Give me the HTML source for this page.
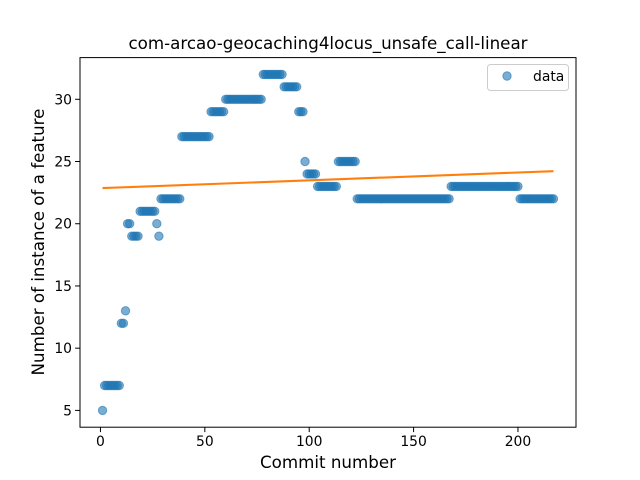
<!DOCTYPE html>
<html><head><meta charset="utf-8"><style>
body{margin:0;background:#fff}
svg{display:block;font-family:"DejaVu Sans","Liberation Sans",sans-serif}
</style></head><body>
<svg id="c" width="640" height="480"></svg>
<script>
// segments: [xStart, xEnd, value]
const segStarts=[1,2,10,12,13,15,19,27,28,29,39,53,60,78,88,95,98,99,104,114,123,168,201];
const segEnds  =[1,9,11,12,14,18,26,27,28,38,52,59,77,87,94,97,98,103,113,122,167,200,217];
const segValues=[5,7,12,13,20,19,21,20,19,22,27,29,30,32,31,29,25,24,23,25,22,23,22];
const xTicks=[0,50,100,150,200];
const yTicks=[5,10,15,20,25,30];
const xs=[],ys=[];
for(let i=0;i<segStarts.length;i++)for(let x=segStarts[i];x<=segEnds[i];x++){xs.push(x);ys.push(segValues[i]);}
const L=80,R=576,T=57.6,B=427.2;
const xmin=Math.min(...xs),xmax=Math.max(...xs),ymin=Math.min(...ys),ymax=Math.max(...ys);
const x0=xmin-(xmax-xmin)*0.05,x1=xmax+(xmax-xmin)*0.05,y0=ymin-(ymax-ymin)*0.05,y1=ymax+(ymax-ymin)*0.05;
const sx=v=>L+(v-x0)/(x1-x0)*(R-L), sy=v=>B-(v-y0)/(y1-y0)*(B-T);
const svg=document.getElementById('c');const NS='http://www.w3.org/2000/svg';
function mk(t,a,p){const e=document.createElementNS(NS,t);for(const k in a)e.setAttribute(k,a[k]);(p||svg).appendChild(e);return e;}
const pts=mk('g',{});


xs.forEach((x,i)=>{const c=mk('circle',{cx:sx(x),cy:sy(ys[i]),r:4.2,fill:'#1f77b4','fill-opacity':0.6,stroke:'#1f77b4','stroke-opacity':0.6,'stroke-width':1},pts);

});
// linear fit
const n=xs.length,mx=xs.reduce((a,b)=>a+b)/n,my=ys.reduce((a,b)=>a+b)/n;
let num=0,den=0;xs.forEach((x,i)=>{num+=(x-mx)*(ys[i]-my);den+=(x-mx)**2;});
const m=num/den,b=my-m*mx;
const ln=mk('line',{x1:sx(xmin),y1:sy(m*xmin+b),x2:sx(xmax),y2:sy(m*xmax+b),stroke:'#ff7f0e','stroke-width':2.1});


const fr=mk('rect',{x:L,y:T,width:R-L,height:B-T,fill:'none',stroke:'#000','stroke-width':1});


xTicks.forEach(v=>{mk('line',{x1:sx(v),x2:sx(v),y1:B,y2:B+4.9,stroke:'#000'});
const t=mk('text',{x:sx(v),y:B+19,'text-anchor':'middle','font-size':13.9});t.textContent=v;

});
yTicks.forEach(v=>{mk('line',{x1:L,x2:L-4.9,y1:sy(v),y2:sy(v),stroke:'#000'});
const t=mk('text',{x:L-8,y:sy(v)+5,'text-anchor':'end','font-size':13.9});t.textContent=v;

});
</script>
<svg style="position:absolute;left:0;top:0" width="640" height="480">
<text x="328" y="49" text-anchor="middle" font-size="16.7" font-family="DejaVu Sans, Liberation Sans, sans-serif">com-arcao-geocaching4locus_unsafe_call-linear</text>
<text x="328" y="468" text-anchor="middle" font-size="16.7" font-family="DejaVu Sans, Liberation Sans, sans-serif">Commit number</text>
<text transform="translate(44,242) rotate(-90)" text-anchor="middle" font-size="16.7" font-family="DejaVu Sans, Liberation Sans, sans-serif">Number of instance of a feature</text>
<g>
<rect x="487.5" y="64.5" width="81" height="26" rx="3" fill="#fff" fill-opacity="0.8" stroke="#ccc"/>
<circle cx="507" cy="76" r="4.2" fill="#1f77b4" fill-opacity="0.6" stroke="#1f77b4" stroke-opacity="0.6"/>
<text x="533" y="81" font-size="13.9" font-family="DejaVu Sans, Liberation Sans, sans-serif">data</text>
</g>
</svg>
</body></html>
